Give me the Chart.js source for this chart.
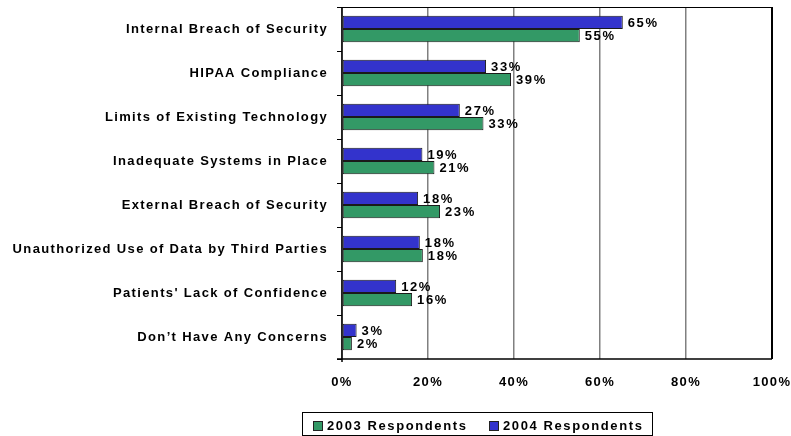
<!DOCTYPE html>
<html>
<head>
<meta charset="utf-8">
<script src="https://cdn.jsdelivr.net/npm/chart.js@4.4.0/dist/chart.umd.min.js"></script>
<style>
html,body{margin:0;padding:0;background:#fff;}
canvas{display:block;}
</style>
</head>
<body>
<canvas id="c" width="791" height="436"></canvas>
<script>
const categories = [
  'Internal Breach of Security',
  'HIPAA Compliance',
  'Limits of Existing Technology',
  'Inadequate Systems in Place',
  'External Breach of Security',
  'Unauthorized Use of Data by Third Parties',
  "Patients' Lack of Confidence",
  'Don\u2019t Have Any Concerns'
];
const seriesNames = ['2004 Respondents', '2003 Respondents'];
const values2004 = [65.3, 33.5, 27.4, 18.7, 17.7, 18.1, 12.6, 3.4];
const values2003 = [55.3, 39.3, 32.9, 21.5, 22.8, 18.8, 16.3, 2.3];
const labels2004 = ['65%', '33%', '27%', '19%', '18%', '18%', '12%', '3%'];
const labels2003 = ['55%', '39%', '33%', '21%', '23%', '18%', '16%', '2%'];
const xTickValues = [0, 20, 40, 60, 80, 100];

const BLUE = '#3333CC';
const GREEN = '#339966';
const FONT = '"Liberation Sans", Arial, sans-serif';
const SP = '1.35px';

const spacingPlugin = {
  id: 'spacing',
  beforeUpdate(chart) { chart.ctx.letterSpacing = SP; },
  beforeLayout(chart) { chart.ctx.letterSpacing = SP; },
  beforeDraw(chart) { chart.ctx.letterSpacing = SP; }
};

function zeroPad(scale) {
  scale.paddingLeft = 0; scale.paddingRight = 0;
  scale.paddingTop = 0; scale.paddingBottom = 0;
}

const decorPlugin = {
  id: 'decor',
  afterDatasetsDraw(chart) {
    const ctx = chart.ctx;
    ctx.save();
    ctx.letterSpacing = '1.6px';
    ctx.font = 'bold 13px ' + FONT;
    ctx.fillStyle = '#000';
    ctx.textAlign = 'left';
    ctx.textBaseline = 'middle';
    const lbls = [labels2004, labels2003];
    chart.data.datasets.forEach((ds, di) => {
      const meta = chart.getDatasetMeta(di);
      meta.data.forEach((bar, i) => {
        ctx.fillText(lbls[di][i], bar.x + 5, bar.y + 1);
      });
    });
    ctx.restore();
  },
  afterDraw(chart) {
    const ctx = chart.ctx;
    const a = chart.chartArea;
    ctx.save();
    ctx.strokeStyle = '#000';
    ctx.lineWidth = 1;
    ctx.beginPath(); ctx.moveTo(a.left, a.top + 0.5); ctx.lineTo(a.right, a.top + 0.5); ctx.stroke();
    ctx.lineWidth = 2;
    ctx.beginPath(); ctx.moveTo(a.right, a.top); ctx.lineTo(a.right, a.bottom); ctx.stroke();
    ctx.lineWidth = 1.5;
    ctx.beginPath(); ctx.moveTo(a.left - 5, a.bottom); ctx.lineTo(a.right, a.bottom); ctx.stroke();
    ctx.beginPath(); ctx.moveTo(a.left, a.top); ctx.lineTo(a.left, a.bottom + 3); ctx.stroke();

    // legend
    ctx.lineWidth = 1;
    ctx.strokeRect(302.5, 412.5, 350, 23);
    ctx.letterSpacing = '1.6px';
    ctx.font = 'bold 13px ' + FONT;
    ctx.textAlign = 'left';
    ctx.textBaseline = 'middle';
    const items = [
      { name: seriesNames[1], color: GREEN, x: 313 },
      { name: seriesNames[0], color: BLUE, x: 489 }
    ];
    items.forEach(it => {
      ctx.fillStyle = it.color;
      ctx.fillRect(it.x, 421.5, 9, 9);
      ctx.strokeStyle = '#222';
      ctx.strokeRect(it.x + 0.5, 421.5, 9, 9);
      ctx.fillStyle = '#000';
      ctx.fillText(it.name, it.x + 14, 426);
    });
    ctx.restore();
  }
};

new Chart(document.getElementById('c'), {
  type: 'bar',
  data: {
    labels: categories,
    datasets: [
      { label: seriesNames[0], data: values2004, backgroundColor: BLUE, borderColor: '#1a1a1a', borderWidth: 1, borderSkipped: false },
      { label: seriesNames[1], data: values2003, backgroundColor: GREEN, borderColor: '#1a1a1a', borderWidth: 1, borderSkipped: false }
    ]
  },
  options: {
    indexAxis: 'y',
    responsive: false,
    animation: false,
    devicePixelRatio: 1,
    layout: { padding: { top: 7, right: 19, left: 0, bottom: 0 } },
    datasets: { bar: { categoryPercentage: 0.6, barPercentage: 1.0 } },
    plugins: {
      legend: { display: false },
      tooltip: { enabled: false }
    },
    scales: {
      x: {
        min: 0, max: 100,
        afterBuildTicks(scale) { scale.ticks = xTickValues.map(v => ({ value: v })); },
        afterFit(scale) { scale.height = 77; zeroPad(scale); },
        grid: { color: '#808080', lineWidth: 1.5, drawTicks: false },
        border: { display: false },
        ticks: {
          padding: 16,
          color: '#000',
          font: { family: FONT, size: 13, weight: 'bold' },
          callback: v => v + '%'
        }
      },
      y: {
        afterFit(scale) { scale.width = 342; zeroPad(scale); },
        grid: { drawOnChartArea: false, drawTicks: true, tickLength: 5, color: '#000', lineWidth: 1 },
        border: { display: false },
        ticks: {
          padding: 9,
          color: '#000',
          font: { family: FONT, size: 13, weight: 'bold' }
        }
      }
    }
  },
  plugins: [spacingPlugin, decorPlugin]
});
</script>
</body>
</html>
